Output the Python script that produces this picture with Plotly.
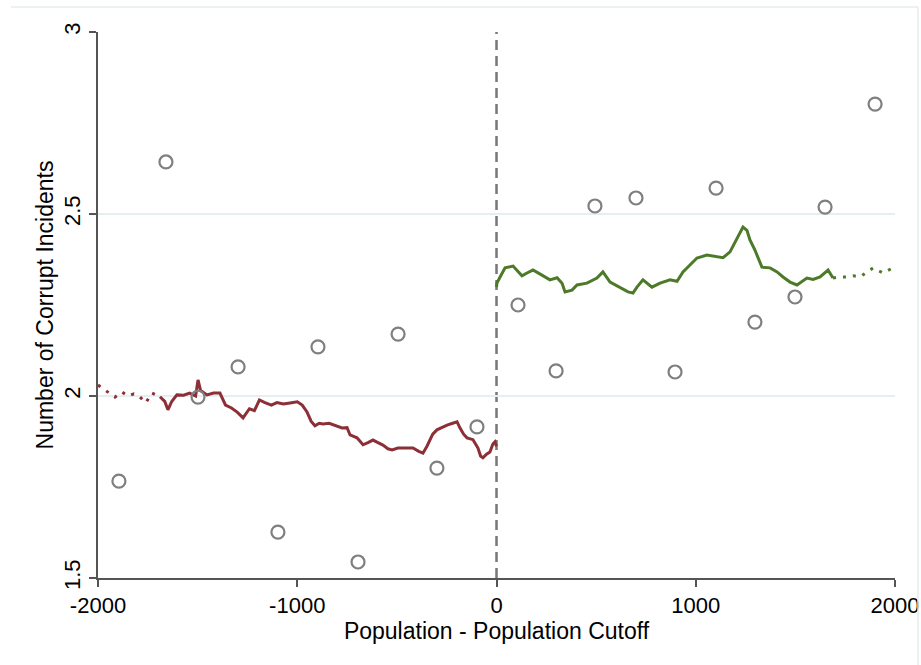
import plotly.graph_objects as go

# Binned means (scatter)
bin_x = [-1895, -1659, -1498, -1297, -1097, -896, -695, -494, -299, -98,
         108, 299, 494, 700, 896, 1102, 1297, 1498, 1649, 1900]
bin_y = [1.766, 2.643, 1.997, 2.080, 1.626, 2.135, 1.544, 2.170, 1.802, 1.915,
         2.250, 2.069, 2.522, 2.544, 2.066, 2.571, 2.203, 2.272, 2.519, 2.802]

# Left-side local fit (sparse dotted part, then solid part)
left_sparse_x = [-2000, -1980, -1950, -1915, -1880, -1850, -1820, -1789, -1760, -1730, -1689]
left_sparse_y = [2.030, 2.022, 2.012, 1.997, 2.011, 2.000, 2.006, 1.997, 1.981, 2.008, 1.998]
left_x = [-1689, -1665, -1649, -1630, -1604, -1570, -1540, -1510, -1498, -1485, -1453,
          -1420, -1388, -1360, -1330, -1300, -1272, -1240, -1215, -1190, -1162, -1130,
          -1102, -1070, -1036, -1000, -975, -951, -930, -911, -890, -871, -840, -801,
          -775, -750, -735, -700, -670, -645, -620, -595, -570, -545, -524, -495, -469,
          -440, -419, -390, -369, -349, -320, -299, -270, -248, -220, -198, -183, -165,
          -148, -130, -118, -93, -80, -68, -50, -33, -18, -8, 0]
left_y = [1.998, 1.985, 1.962, 1.985, 2.003, 2.002, 2.008, 2.000, 2.044, 2.015, 2.003,
          2.008, 2.008, 1.975, 1.967, 1.955, 1.940, 1.965, 1.960, 1.989, 1.982, 1.975,
          1.982, 1.978, 1.981, 1.984, 1.975, 1.956, 1.930, 1.918, 1.925, 1.923, 1.925, 1.918,
          1.912, 1.913, 1.893, 1.885, 1.866, 1.872, 1.879, 1.872, 1.865, 1.855, 1.852, 1.857, 1.857,
          1.855, 1.857, 1.848, 1.843, 1.862, 1.895, 1.907, 1.915, 1.920, 1.925, 1.929, 1.912, 1.895,
          1.885, 1.882, 1.880, 1.857, 1.835, 1.830, 1.840, 1.846, 1.868, 1.874, 1.862]

# Right-side local fit (solid part, then sparse dotted part)
right_x = [0, 2, 18, 43, 83, 103, 128, 153, 183, 228, 268, 304, 329, 344, 379, 404,
           454, 504, 534, 570, 620, 660, 685, 705, 735, 780, 821, 871, 906, 936, 971,
           1006, 1056, 1107, 1137, 1172, 1207, 1237, 1257, 1272, 1297, 1312, 1332, 1373,
           1408, 1438, 1473, 1508, 1533, 1558, 1589, 1624, 1664, 1689]
right_y = [2.299, 2.310, 2.327, 2.352, 2.357, 2.346, 2.330, 2.338, 2.346, 2.332, 2.319,
           2.325, 2.310, 2.286, 2.291, 2.305, 2.310, 2.324, 2.341, 2.313, 2.299, 2.286,
           2.283, 2.299, 2.319, 2.299, 2.310, 2.319, 2.315, 2.341, 2.360, 2.379, 2.387,
           2.382, 2.380, 2.396, 2.434, 2.464, 2.455, 2.429, 2.401, 2.379, 2.354, 2.352,
           2.341, 2.327, 2.313, 2.305, 2.315, 2.324, 2.320, 2.327, 2.346, 2.324]
right_sparse_x = [1689, 1724, 1759, 1790, 1824, 1860, 1890, 1915, 1940, 1965, 1990, 2000]
right_sparse_y = [2.324, 2.327, 2.327, 2.330, 2.327, 2.340, 2.352, 2.345, 2.338, 2.345, 2.352, 2.355]

x_ticks = [-2000, -1000, 0, 1000, 2000]
x_tick_text = ["-2000", "-1000", "0", "1000", "2000"]
y_ticks = [1.5, 2, 2.5, 3]
y_tick_text = ["1.5", "2", "2.5", "3"]

RED = "#8c2f36"
GREEN = "#4c7a28"
FONT = "Liberation Sans, Arial, sans-serif"

fig = go.Figure()

fig.add_trace(go.Scatter(x=left_sparse_x, y=left_sparse_y, mode="lines",
                         line=dict(color=RED, width=3, dash="3px,7px"),
                         showlegend=False, hoverinfo="skip"))
fig.add_trace(go.Scatter(x=left_x, y=left_y, mode="lines",
                         line=dict(color=RED, width=3),
                         showlegend=False, hoverinfo="skip"))
fig.add_trace(go.Scatter(x=right_x, y=right_y, mode="lines",
                         line=dict(color=GREEN, width=3),
                         showlegend=False, hoverinfo="skip"))
fig.add_trace(go.Scatter(x=right_sparse_x, y=right_sparse_y, mode="lines",
                         line=dict(color=GREEN, width=3, dash="3px,7px"),
                         showlegend=False, hoverinfo="skip"))
fig.add_trace(go.Scatter(x=bin_x, y=bin_y, mode="markers",
                         marker=dict(symbol="circle-open", size=13, color="#7f7f7f",
                                     line=dict(width=2.2, color="#7f7f7f")),
                         showlegend=False))

# vertical dashed cutoff line
fig.add_shape(type="line", xref="x", yref="paper", x0=0, x1=0, y0=0, y1=1,
              line=dict(color="#777777", width=2.5, dash="10px,6px"), layer="below")

# outer faint frame (top and right)
fig.add_shape(type="line", xref="paper", yref="paper", x0=-0.109, x1=1.0289,
              y0=1.0458, y1=1.0458, line=dict(color="#e6ecef", width=1.5))
fig.add_shape(type="line", xref="paper", yref="paper", x0=1.0289, x1=1.0289,
              y0=1.0458, y1=-0.2, line=dict(color="#e6ecef", width=1.5))

fig.update_layout(
    width=921, height=665,
    margin=dict(l=98, r=26, t=32, b=87, autoexpand=False),
    paper_bgcolor="white", plot_bgcolor="white",
    font=dict(family=FONT, size=22, color="black"),
    xaxis=dict(range=[-2000, 2000], tickvals=x_ticks, ticktext=x_tick_text,
               showgrid=False, zeroline=False, automargin=False,
               showline=True, linecolor="#555555", linewidth=1.5,
               ticks="outside", ticklen=7, tickwidth=1.5, tickcolor="#555555",
               tickfont=dict(size=22),
               title=dict(text="Population - Population Cutoff", font=dict(size=23), standoff=0)),
    yaxis=dict(range=[1.5, 3], tickvals=y_ticks, ticktext=y_tick_text, tickangle=-90,
               showgrid=True, gridcolor="#e6eef1", gridwidth=2, zeroline=False,
               automargin=False,
               showline=True, linecolor="#555555", linewidth=1.5,
               ticks="outside", ticklen=7, tickwidth=1.5, tickcolor="#555555",
               tickfont=dict(size=22),
               title=dict(text="Number of Corrupt Incidents", font=dict(size=23), standoff=0)),
)

fig.write_html("out.html")
